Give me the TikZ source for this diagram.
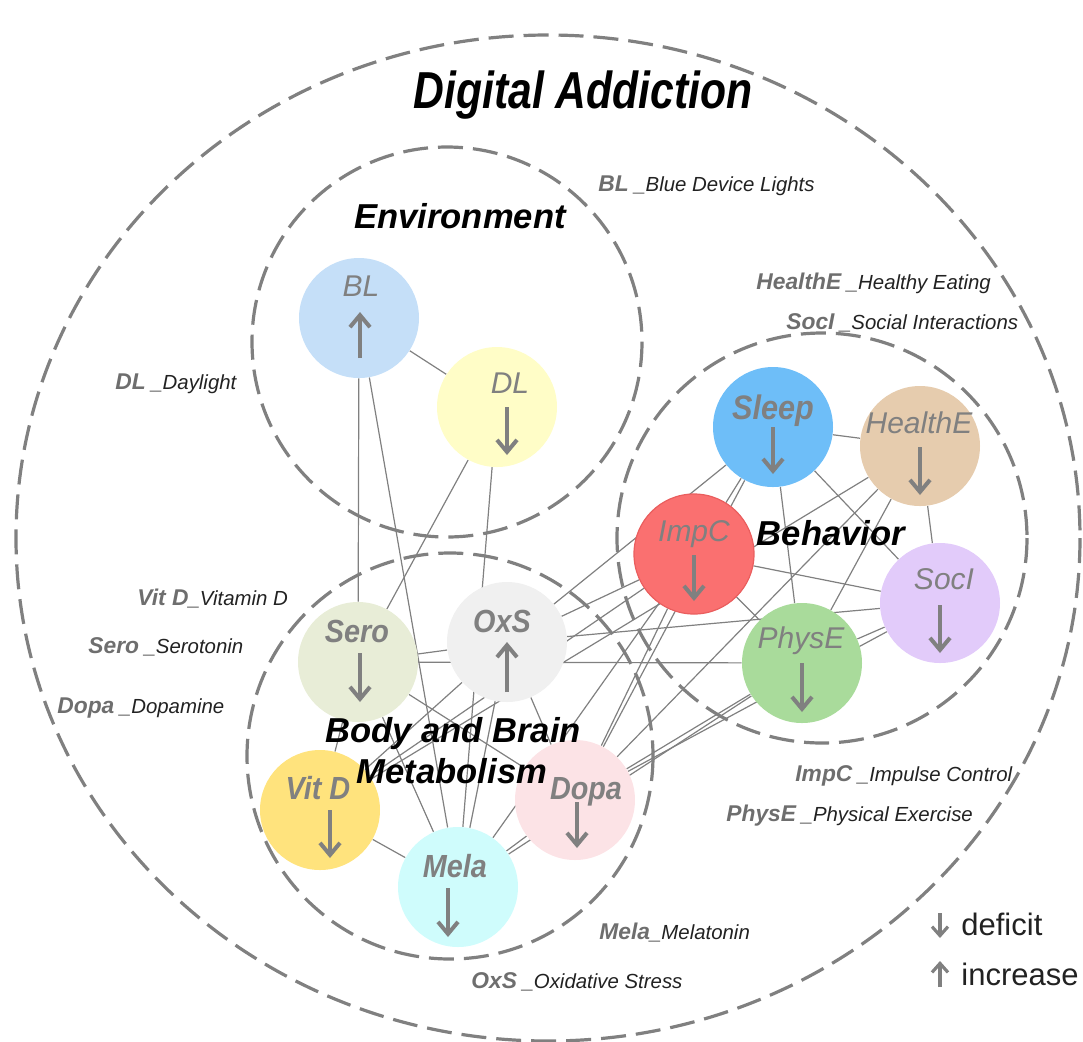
\documentclass[tikz,border=0pt]{standalone}
\usepackage{fontspec}
\setmainfont{Liberation Sans}
\usetikzlibrary{arrows.meta}
\pgfdeclarelayer{bg}
\pgfsetlayers{bg,main}
\definecolor{lgray}{HTML}{808080}
\definecolor{abbr}{HTML}{6E6E6E}
\definecolor{desc}{HTML}{222222}
\definecolor{cBL}{HTML}{C5DFF8}
\definecolor{cDL}{HTML}{FFFDC7}
\definecolor{cSleep}{HTML}{6EBEF8}
\definecolor{cHealthE}{HTML}{E6CCAE}
\definecolor{cImpC}{HTML}{FA7070}
\definecolor{cImpCb}{HTML}{EA5E5E}
\definecolor{cSocI}{HTML}{E2CBFA}
\definecolor{cPhysE}{HTML}{A9DB9B}
\definecolor{cSero}{HTML}{E8EDD7}
\definecolor{cOxS}{HTML}{F0F0F0}
\definecolor{cVitD}{HTML}{FFE37D}
\definecolor{cMela}{HTML}{CFFCFC}
\definecolor{cDopa}{HTML}{FCE3E6}
\begin{document}
\begin{tikzpicture}[x=0.5pt,y=-0.5pt,
  bub/.style={circle,minimum size=60pt,inner sep=0pt,draw=none,fill=#1},
  grp/.style={draw=lgray,line width=1.6pt,dash pattern=on 12.5pt off 5pt},
  edge/.style={draw=lgray,line width=0.6pt},
  ntext/.style={text=lgray,font=\fontsize{15}{18}\selectfont\itshape,inner sep=0pt,anchor=base},
  nbold/.style={text=lgray,font=\fontsize{16}{19}\selectfont\bfseries\itshape,inner sep=0pt,anchor=base,xscale=0.9},
  arr/.style={draw=lgray,line width=2pt,-{Straight Barb[length=6pt,width=10pt]}},
  larr/.style={draw=lgray,line width=1.6pt,-{Straight Barb[length=4.5pt,width=8pt]}},
  grouplabel/.style={font=\fontsize{17.3}{20.5}\selectfont\bfseries\itshape,inner sep=0pt,anchor=base},
  legab/.style={inner sep=0pt,anchor=base west}
]
\useasboundingbox (0,0) rectangle (1083,1041);

% title
\node[inner sep=0pt,anchor=base,xscale=0.82,font=\fontsize{26}{30}\selectfont\bfseries\itshape] (title) at (583,108) {Digital Addiction};

% bubbles
\node[bub=cBL] (BL) at (359,318) {};
\node[bub=cDL] (DL) at (497,407) {};
\node[bub=cSleep] (Sleep) at (773,427) {};
\node[bub=cHealthE] (HealthE) at (920,446) {};
\node[bub=cImpC,draw=cImpCb,line width=0.6pt] (ImpC) at (694,554) {};
\node[bub=cSocI] (SocI) at (940,603) {};
\node[bub=cPhysE] (PhysE) at (802,663) {};
\node[bub=cSero] (Sero) at (358,662) {};
\node[bub=cOxS] (OxS) at (507,642) {};
\node[bub=cVitD] (VitD) at (320,810) {};
\node[bub=cMela] (Mela) at (458,887) {};
\node[bub=cDopa] (Dopa) at (575,800) {};

% bubble texts
\node[ntext] (BLt) at (361,296) {BL};
\node[ntext] (DLt) at (510,393) {DL};
\node[nbold,font=\fontsize{17}{20}\selectfont\bfseries\itshape] (Sleept) at (773,419) {Sleep};
\node[ntext] (HealthEt) at (919,433) {HealthE};
\node[ntext] (ImpCt) at (694,541) {ImpC};
\node[ntext] (SocIt) at (944,589) {SocI};
\node[ntext] (PhysEt) at (801,648) {PhysE};
\node[nbold] (Serot) at (357,642) {Sero};
\node[nbold] (OxSt) at (502,632) {OxS};
\node[nbold] (VitDt) at (318,799) {Vit D};
\node[nbold] (Melat) at (455,877) {Mela};
\node[nbold] (Dopat) at (586,799) {Dopa};

% bubble arrows
\draw[arr] (360,358) -- (360,312);
\draw[arr] (507,407) -- (507,455);
\draw[arr] (773,427) -- (773,474);
\draw[arr] (920,447) -- (920,495);
\draw[arr] (694,555) -- (694,601);
\draw[arr] (940,605) -- (940,653);
\draw[arr] (802,663) -- (802,712);
\draw[arr] (360,653) -- (360,702);
\draw[arr] (507,692) -- (507,642);
\draw[arr] (330,810) -- (330,858);
\draw[arr] (448,888) -- (448,937);
\draw[arr] (577,802) -- (577,848);

% group labels
\node[grouplabel] (envlab) at (460,228) {Environment};
\node[grouplabel] (behlab) at (831,545) {Behavior};
\node[grouplabel] (bodylab1) at (453,742) {Body and Brain};
\node[grouplabel] (bodylab2) at (452,783) {Metabolism};

% legend of abbreviations
\node[legab] (lBL) at (598,191) {\textcolor{abbr}{\fontsize{11.4}{13}\selectfont\bfseries\itshape BL} {\fontsize{10.2}{12}\selectfont\itshape\color{desc}\_Blue Device Lights}};
\node[legab] (lHE) at (756,289) {\textcolor{abbr}{\fontsize{11.4}{13}\selectfont\bfseries\itshape HealthE} {\fontsize{10.2}{12}\selectfont\itshape\color{desc}\_Healthy Eating}};
\node[legab] (lSI) at (786,329) {\textcolor{abbr}{\fontsize{11.4}{13}\selectfont\bfseries\itshape SocI} {\fontsize{10.2}{12}\selectfont\itshape\color{desc}\_Social Interactions}};
\node[legab] (lDL) at (115,389) {\textcolor{abbr}{\fontsize{11.4}{13}\selectfont\bfseries\itshape DL} {\fontsize{10.2}{12}\selectfont\itshape\color{desc}\_Daylight}};
\node[legab] (lVD) at (137,605) {\textcolor{abbr}{\fontsize{11.4}{13}\selectfont\bfseries\itshape Vit D}{\fontsize{10.2}{12}\selectfont\itshape\color{desc}\textbf{\_}Vitamin D}};
\node[legab] (lSe) at (88,653) {\textcolor{abbr}{\fontsize{11.4}{13}\selectfont\bfseries\itshape Sero} {\fontsize{10.2}{12}\selectfont\itshape\color{desc}\_Serotonin}};
\node[legab] (lDo) at (57,713) {\textcolor{abbr}{\fontsize{11.4}{13}\selectfont\bfseries\itshape Dopa} {\fontsize{10.2}{12}\selectfont\itshape\color{desc}\_Dopamine}};
\node[legab] (lIC) at (795,781) {\textcolor{abbr}{\fontsize{11.4}{13}\selectfont\bfseries\itshape ImpC} {\fontsize{10.2}{12}\selectfont\itshape\color{desc}\_Impulse Control}};
\node[legab] (lPE) at (726,821) {\textcolor{abbr}{\fontsize{11.4}{13}\selectfont\bfseries\itshape PhysE} {\fontsize{10.2}{12}\selectfont\itshape\color{desc}\_Physical Exercise}};
\node[legab] (lMe) at (599,939) {\textcolor{abbr}{\fontsize{11.4}{13}\selectfont\bfseries\itshape Mela}{\fontsize{10.2}{12}\selectfont\itshape\color{desc}\_Melatonin}};
\node[legab] (lOx) at (471,988) {\textcolor{abbr}{\fontsize{11.4}{13}\selectfont\bfseries\itshape OxS} {\fontsize{10.2}{12}\selectfont\itshape\color{desc}\_Oxidative Stress}};

% arrow legend
\coordinate (d1) at (940,913);
\coordinate (d2) at (940,938);
\coordinate (u1) at (940,987);
\coordinate (u2) at (940,961);
\draw[larr] (d1) -- (d2);
\draw[larr] (u1) -- (u2);
\node[inner sep=0pt,anchor=base west,font=\fontsize{15.5}{18}\selectfont,text=desc] (deficit) at (961,935) {deficit};
\node[inner sep=0pt,anchor=base west,font=\fontsize{15.5}{18}\selectfont,text=desc] (increase) at (961,985) {increase};

\begin{pgfonlayer}{bg}
% group circles
\draw[grp] (548,538) circle[x radius=532,y radius=503];
\draw[grp] (447,342) circle[radius=195];
\draw[grp] (450,756) circle[radius=203];
\draw[grp] (822,538) circle[radius=205];
% connectors
\draw[edge] (BL) -- (DL);
\draw[edge] (BL) -- (Sero);
\draw[edge] (BL) -- (Mela);
\draw[edge] (DL) -- (Sero);
\draw[edge] (DL) -- (Mela);
\draw[edge] (Sero) -- (OxS);
\draw[edge] (Sero) -- (VitD);
\draw[edge] (Sero) -- (Mela);
\draw[edge] (Sero) -- (Dopa);
\draw[edge] (OxS) -- (VitD);
\draw[edge] (OxS) -- (Mela);
\draw[edge] (OxS) -- (Dopa);
\draw[edge] (VitD) -- (Mela);
\draw[edge] (Mela) -- (Dopa);
\draw[edge] (Sero) -- (PhysE);
\draw[edge] (VitD) -- (HealthE);
\draw[edge] (VitD) -- (ImpC);
\draw[edge] (Mela) -- (PhysE);
\draw[edge] (Mela) -- (ImpC);
\draw[edge] (OxS) -- (ImpC);
\draw[edge] (OxS) -- (SocI);
\draw[edge] (Sleep) -- (OxS);
\draw[edge] (Sleep) -- (Dopa);
\draw[edge] (Dopa) -- (ImpC);
\draw[edge] (Dopa) -- (PhysE);
\draw[edge] (Dopa) -- (HealthE);
\draw[edge] (Dopa) -- (SocI);
\draw[edge] (Sleep) -- (HealthE);
\draw[edge] (Sleep) -- (ImpC);
\draw[edge] (Sleep) -- (PhysE);
\draw[edge] (Sleep) -- (SocI);
\draw[edge] (HealthE) -- (SocI);
\draw[edge] (HealthE) -- (PhysE);
\draw[edge] (ImpC) -- (SocI);
\draw[edge] (ImpC) -- (PhysE);
\draw[edge] (PhysE) -- (SocI);
\end{pgfonlayer}
\end{tikzpicture}
\end{document}
